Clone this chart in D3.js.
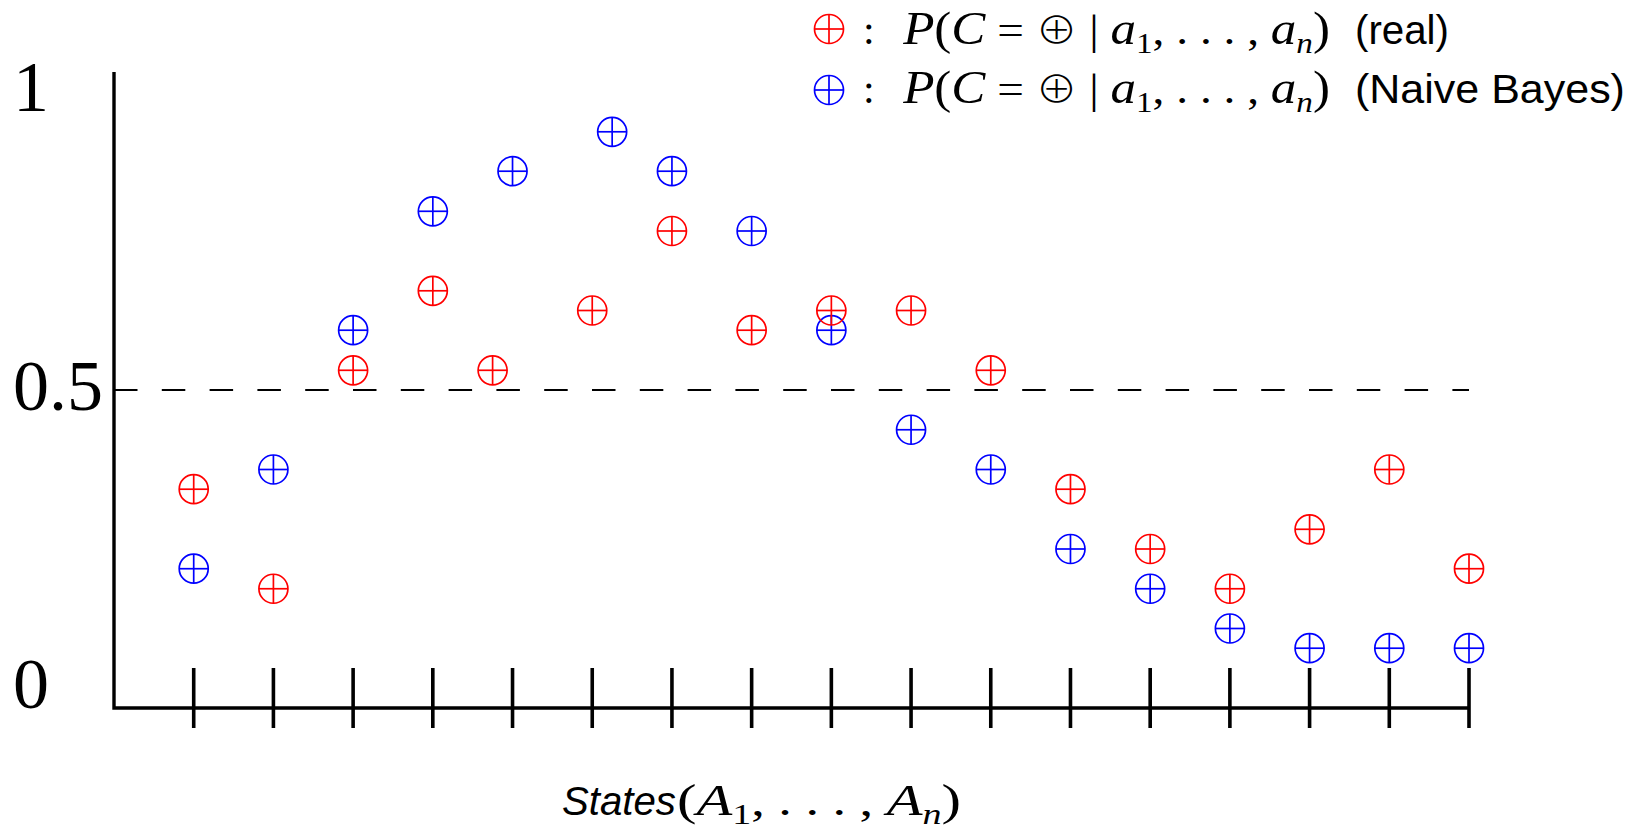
<!DOCTYPE html>
<html>
<head>
<meta charset="utf-8">
<script src="https://cdn.jsdelivr.net/npm/d3@7/dist/d3.min.js"></script>
<style>
  html, body { margin: 0; padding: 0; background: #fff; }
  svg { display: block; }
  text { white-space: pre; }
</style>
</head>
<body>
<svg id="chart" width="1639" height="830"></svg>
<script>
// ---- data ----
const states = [1,2,3,4,5,6,7,8,9,10,11,12,13,14,15,16,17];
const realX   = [1,2,3,4,4.75,6,7,8,9,10,11,12,13,14,15,16,17];
const realP   = [0.344,0.1875,0.531,0.656,0.531,0.625,0.75,0.594,0.625,0.625,0.531,0.344,0.25,0.1875,0.281,0.375,0.219];
const naiveX  = [1,2,3,4,5,6.25,7,8,9,10,11,12,13,14,15,16,17];
const naiveP  = [0.219,0.375,0.594,0.781,0.844,0.906,0.844,0.75,0.594,0.4375,0.375,0.25,0.1875,0.125,0.094,0.094,0.094];
const yTickValues = [0, 0.5, 1];
const yTickLabels = ["0", "0.5", "1"];
const threshold = 0.5;
const seriesLabels = ["(real)", "(Naive Bayes)"];

// ---- layout ----
const svg = d3.select("#chart");
const x = d3.scaleLinear().domain([0, 17]).range([114, 1469]);
const y = d3.scaleLinear().domain([0, 1]).range([708, 72]);
const yLabel = d3.scaleLinear().domain([0, 1]).range([708, 111]);
const RED = "#ff0000", BLUE = "#0000ff";
const R = 14.5;

// axes
svg.append("path")
  .attr("d", `M${x(0)},${y(1)}V${y(0)}H${x(17)}`)
  .attr("fill", "none").attr("stroke", "#000").attr("stroke-width", 3.4)
  .attr("stroke-linejoin", "miter").attr("stroke-linecap", "butt");

svg.append("g").selectAll("line").data(states).join("line")
  .attr("x1", d => x(d)).attr("x2", d => x(d))
  .attr("y1", y(0) - 40).attr("y2", y(0) + 20)
  .attr("stroke", "#000").attr("stroke-width", 3.6);

// threshold dashed line
svg.append("line")
  .attr("x1", x(0)).attr("x2", x(17))
  .attr("y1", y(threshold)).attr("y2", y(threshold))
  .attr("stroke", "#000").attr("stroke-width", 2)
  .attr("stroke-dasharray", "23.5 24.3");

// y tick labels
svg.append("g").selectAll("text").data(yTickValues).join("text")
  .attr("x", 13).attr("y", d => yLabel(d))
  .attr("font-family", "Liberation Serif, Times New Roman, serif")
  .attr("font-size", 72)
  .text((d, i) => yTickLabels[i]);

// markers
function oplus(g, cx, cy, color, sw) {
  const m = g.append("g").attr("transform", `translate(${cx},${cy})`)
    .attr("fill", "none").attr("stroke", color).attr("stroke-width", sw || 1.7);
  m.append("circle").attr("r", R);
  m.append("line").attr("x1", -R).attr("x2", R);
  m.append("line").attr("y1", -R).attr("y2", R);
}
const marks = svg.append("g");
naiveX.forEach((v, i) => oplus(marks, x(v), y(naiveP[i]), BLUE));
realX.forEach((v, i) => oplus(marks, x(v), y(realP[i]), RED));

// ---- math text helpers ----
const SERIF = "Liberation Serif, Times New Roman, serif";
const SANS = "Liberation Sans, Arial, Helvetica, sans-serif";
function mathText(parent, pieces, baseline, size) {
  const t = parent.append("text").attr("x", 0).attr("y", baseline)
    .attr("font-family", SERIF).attr("font-size", size);
  let shift = 0;
  pieces.forEach(p => {
    const target = p.sub ? size * 0.22 : 0;
    const ts = t.append("tspan").attr("dy", target - shift).text(p.t);
    shift = target;
    if (p.it) ts.attr("font-style", "italic");
    if (p.sub) ts.attr("font-size", size * 0.7);
    if (p.sym) ts.attr("font-family", "Noto Sans CJK SC, DejaVu Sans, sans-serif").attr("font-weight", 300).attr("font-size", 37);
    if (p.big) ts.attr("font-size", size * 1.08);
  });
  return t;
}
function fitText(t, x0, w) {
  const bb = t.node().getBBox();
  const k = w / bb.width;
  t.attr("transform", `translate(${x0},0) scale(${k},1) translate(${-bb.x},0)`);
}

const condPieces = [
  {t: "P", it: true, big: true}, {t: "(", big: true}, {t: "C", it: true, big: true}, {t: " = "}, {t: "⊕", sym: true},
  {t: " | "}, {t: "a", it: true, big: true}, {t: "1", sub: true}, {t: ", . . . , "},
  {t: "a", it: true, big: true}, {t: "n", sub: true, it: true}, {t: ")", big: true}
];

// legend
const legend = svg.append("g");
const legendRows = [
  {color: RED, cy: 29, base: 44, label: seriesLabels[0], labW: 94},
  {color: BLUE, cy: 90, base: 103, label: seriesLabels[1], labW: 270}
];
legendRows.forEach(r => {
  oplus(legend, 829, r.cy, r.color);
  legend.append("text").attr("x", 863).attr("y", r.base)
    .attr("font-family", SERIF).attr("font-size", 42).text(":");
  const m = mathText(legend, condPieces, r.base, 42);
  fitText(m, 902, 428);
  const l = legend.append("text").attr("x", 0).attr("y", r.base)
    .attr("font-family", SANS).attr("font-size", 40).text(r.label);
  fitText(l, 1355, r.labW);
});

// x-axis title
const xt = svg.append("text").attr("x", 0).attr("y", 815)
  .attr("font-family", SANS).attr("font-style", "italic").attr("font-size", 40).text("States");
fitText(xt, 562, 114);
const xm = mathText(svg, [
  {t: "(", big: true}, {t: "A", it: true, big: true}, {t: "1", sub: true}, {t: ", . . . , "},
  {t: "A", it: true, big: true}, {t: "n", sub: true, it: true}, {t: ")", big: true}
], 815, 42);
fitText(xm, 677, 284);
</script>
</body>
</html>
